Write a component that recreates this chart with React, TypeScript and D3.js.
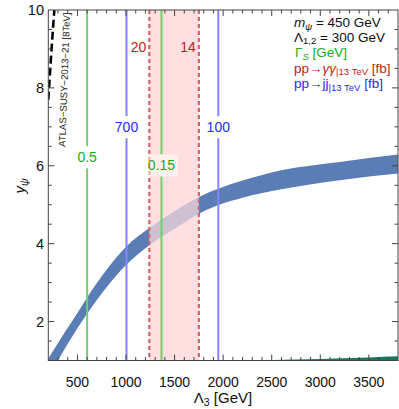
import React from "react";
import * as d3 from "d3";

// plot size
const W = 399;
const H = 409;
const font = "'Liberation Sans', Arial, Helvetica, sans-serif";

// axis domains and tick labels
const xDomain = [200, 3800];
const yDomain = [1, 10];
const xTickLabels = [500, 1000, 1500, 2000, 2500, 3000, 3500];
const yTickLabels = [2, 4, 6, 8, 10];

// blue band (allowed region)
const bandLambda = [200, 300, 400, 500, 600, 800, 1000, 1240, 1500, 1750, 1950, 2200, 2585, 3200, 3800];
const bandUpper = [1.05, 1.45, 1.84, 2.22, 2.62, 3.33, 3.92, 4.4, 4.83, 5.2, 5.41, 5.62, 5.88, 6.1, 6.29];
const bandLower = [0.6, 1.0, 1.43, 1.83, 2.2, 2.88, 3.45, 3.96, 4.38, 4.77, 4.99, 5.18, 5.39, 5.63, 5.8];

// thin green sliver bottom right
const greenLambda = [2150, 2500, 3000, 3500, 3800];
const greenUpper = [1.0, 1.015, 1.04, 1.08, 1.11];

// Gamma_S contours (green)
const widthLambda = [600, 1365];
const widthLabels = ["0.5", "0.15"];
const widthLabelY = [6.22, 6.01];

// pp -> jj contours (blue)
const jjLambda = [1005, 1950];
const jjLabels = ["700", "100"];
const jjLabelY = [6.99, 6.99];

// pp -> gamma gamma contours (red dashed), band between them
const ggLambda = [1240, 1750];
const ggLabels = ["20", "14"];
const ggLabelY = [9.06, 9.06];

// ATLAS bound (black dashed)
const atlasLambda = [200, 231, 262];
const atlasY = [7.7, 8.9, 10];

const App = () => {
  const x = d3.scaleLinear().domain(xDomain).range([48.3, 398]);
  const y = d3.scaleLinear().domain(yDomain).range([360.5, 10]);
  const [x0, x1] = x.range();
  const [yB, yT] = y.range();

  const bandArea = d3
    .area<number>()
    .x((d, i) => x(bandLambda[i]))
    .y0((d, i) => y(bandLower[i]))
    .y1((d, i) => y(bandUpper[i]))
    .curve(d3.curveMonotoneX);
  const bandPath = bandArea(bandLambda) || "";

  const greenArea = d3
    .area<number>()
    .x((d, i) => x(greenLambda[i]))
    .y0(() => yB + 2)
    .y1((d, i) => y(greenUpper[i]))
    .curve(d3.curveMonotoneX);

  const atlasLine = d3
    .line<number>()
    .x((d, i) => x(atlasLambda[i]))
    .y((d, i) => y(atlasY[i]))
    .curve(d3.curveMonotoneY);

  const xMinor = d3.range(300, 3800, 100);
  const yMinor = d3.range(1.5, 10, 0.5);

  const pinkL = x(ggLambda[0]);
  const pinkR = x(ggLambda[1]);

  // vertical contour with a gap for its label
  const gapLine = (lx: number, ly: number, stroke: string, w: number, key: string) => (
    <g key={key}>
      <line x1={lx} x2={lx} y1={yT} y2={ly - 11} stroke={stroke} strokeWidth={w} />
      <line x1={lx} x2={lx} y1={ly + 11} y2={yB} stroke={stroke} strokeWidth={w} />
    </g>
  );

  return (
    <svg
      width={W}
      height={H}
      style={{ position: "absolute", left: 0, top: 0, background: "white" }}
      fontFamily={font}
    >
      <defs>
        <clipPath id="plot">
          <rect x={x0} y={yT} width={x1 - x0} height={yB - yT} />
        </clipPath>
        <clipPath id="outside">
          <rect x={x0} y={yT} width={pinkL - x0} height={yB - yT} />
          <rect x={pinkR} y={yT} width={x1 - pinkR} height={yB - yT} />
        </clipPath>
        <clipPath id="inside">
          <rect x={pinkL} y={yT} width={pinkR - pinkL} height={yB - yT} />
        </clipPath>
      </defs>

      {/* diphoton band */}
      <rect x={pinkL} y={yT} width={pinkR - pinkL} height={yB - yT} fill="#ffdfdf" />

      {/* allowed region */}
      <g clipPath="url(#plot)">
        <path d={bandPath} fill="#5b7db5" clipPath="url(#outside)" />
        <path d={bandPath} fill="#5b7db5" opacity={0.3} clipPath="url(#inside)" />
        <path d={greenArea(greenLambda) || ""} fill="#137a5e" />
      </g>

      {/* Gamma_S lines */}
      {widthLambda.map((v, i) => gapLine(x(v), y(widthLabelY[i]), "#6fd06f", 2, "w" + i))}
      {/* jj lines */}
      {jjLambda.map((v, i) => gapLine(x(v), y(jjLabelY[i]), "#8585ff", 2, "j" + i))}
      {/* diphoton dashed lines */}
      {ggLambda.map((v) => (
        <line key={v} x1={x(v)} x2={x(v)} y1={yT} y2={yB} stroke="#d36467" strokeWidth={2.2} strokeDasharray="4,3" />
      ))}

      {widthLambda.map((v, i) => (
        <g key={"wl" + i}>
          <rect x={x(v) - 16.5} y={y(widthLabelY[i]) - 11} width={33} height={22} fill="white" opacity={0.5} />
          <text x={x(v)} y={y(widthLabelY[i]) + 5} textAnchor="middle" fontSize={14} fill="#22aa22">
            {widthLabels[i]}
          </text>
        </g>
      ))}
      {jjLambda.map((v, i) => (
        <text key={"jl" + i} x={x(v)} y={y(jjLabelY[i]) + 5} textAnchor="middle" fontSize={14} fill="#2a2aff">
          {jjLabels[i]}
        </text>
      ))}
      {ggLambda.map((v, i) => (
        <text key={"gl" + i} x={x(v) - 3} y={y(ggLabelY[i]) + 5} textAnchor="end" fontSize={14} fill="#c01c1c">
          {ggLabels[i]}
        </text>
      ))}

      {/* ATLAS bound */}
      <g clipPath="url(#plot)">
        <path d={atlasLine(atlasLambda) || ""} fill="none" stroke="black" strokeWidth={2.6} strokeDasharray="8,4" />
      </g>
      <text
        transform={`translate(${x(atlasLambda[0]) + 17},147) rotate(-88)`}
        fontSize={9.6}
        fill="#222"
      >
        ATLAS−SUSY−2013−21 [8TeV]
      </text>

      {/* frame */}
      <rect x={x0} y={yT} width={x1 - x0} height={yB - yT} fill="none" stroke="#444" strokeWidth={1} />

      {/* ticks */}
      <g stroke="#444" strokeWidth={1}>
        {xMinor.map((v) => {
          const major = v % 500 === 0;
          const l = major ? 6 : 3.5;
          return (
            <g key={"xt" + v}>
              <line x1={x(v)} x2={x(v)} y1={yB} y2={yB - l} />
              <line x1={x(v)} x2={x(v)} y1={yT} y2={yT + l} />
            </g>
          );
        })}
        {yMinor.map((v) => {
          const major = v % 2 === 0;
          const l = major ? 6 : 3.5;
          return (
            <g key={"yt" + v}>
              <line x1={x0} x2={x0 + l} y1={y(v)} y2={y(v)} />
              <line x1={x1} x2={x1 - l} y1={y(v)} y2={y(v)} />
            </g>
          );
        })}
      </g>

      {/* tick labels */}
      {xTickLabels.map((v) => (
        <text key={"xl" + v} x={x(v)} y={387} textAnchor="middle" fontSize={14} fill="#111">
          {v}
        </text>
      ))}
      {yTickLabels.map((v) => (
        <text key={"yl" + v} x={44} y={y(v) + 5} textAnchor="end" fontSize={14.5} fill="#111">
          {v}
        </text>
      ))}

      {/* axis titles */}
      <text x={223} y={403} textAnchor="middle" fontSize={15} fill="#111">
        Λ<tspan fontSize={10.5} dy={3}>3</tspan>
        <tspan dy={-3}> [GeV]</tspan>
      </text>
      <text transform="translate(25,186) rotate(-90)" textAnchor="middle" fontSize={15} fill="#111">
        <tspan fontStyle="italic">y</tspan>
        <tspan fontSize={10.5} dy={3} fontStyle="italic">ψ</tspan>
      </text>

      {/* legend */}
      <g fontSize={13.5}>
        <text x={294} y={27} fill="#111">
          <tspan fontStyle="italic">m</tspan>
          <tspan fontSize={9.5} dy={2.5} fontStyle="italic">ψ</tspan>
          <tspan dy={-2.5}> = 450 GeV</tspan>
        </text>
        <text x={294} y={41.5} fill="#111">
          Λ<tspan fontSize={9.5} dy={2.5}>1,2</tspan>
          <tspan dy={-2.5}> = 300 GeV</tspan>
        </text>
        <text x={295} y={57} fill="#22aa22">
          Γ<tspan fontSize={9.5} dy={2.5} fontStyle="italic">S</tspan>
          <tspan dy={-2.5}> [GeV]</tspan>
        </text>
        <text x={294} y={72.5} fill="#c01c1c">
          pp→<tspan fontStyle="italic">γγ</tspan>
          <tspan fontSize={9.5} dy={2.5}>|13 TeV</tspan>
          <tspan dy={-2.5}> [fb]</tspan>
        </text>
        <text x={294} y={88} fill="#2a2aff">
          pp→jj<tspan fontSize={9.5} dy={2.5}>|13 TeV</tspan>
          <tspan dy={-2.5}> [fb]</tspan>
        </text>
      </g>
    </svg>
  );
};

export default App;
